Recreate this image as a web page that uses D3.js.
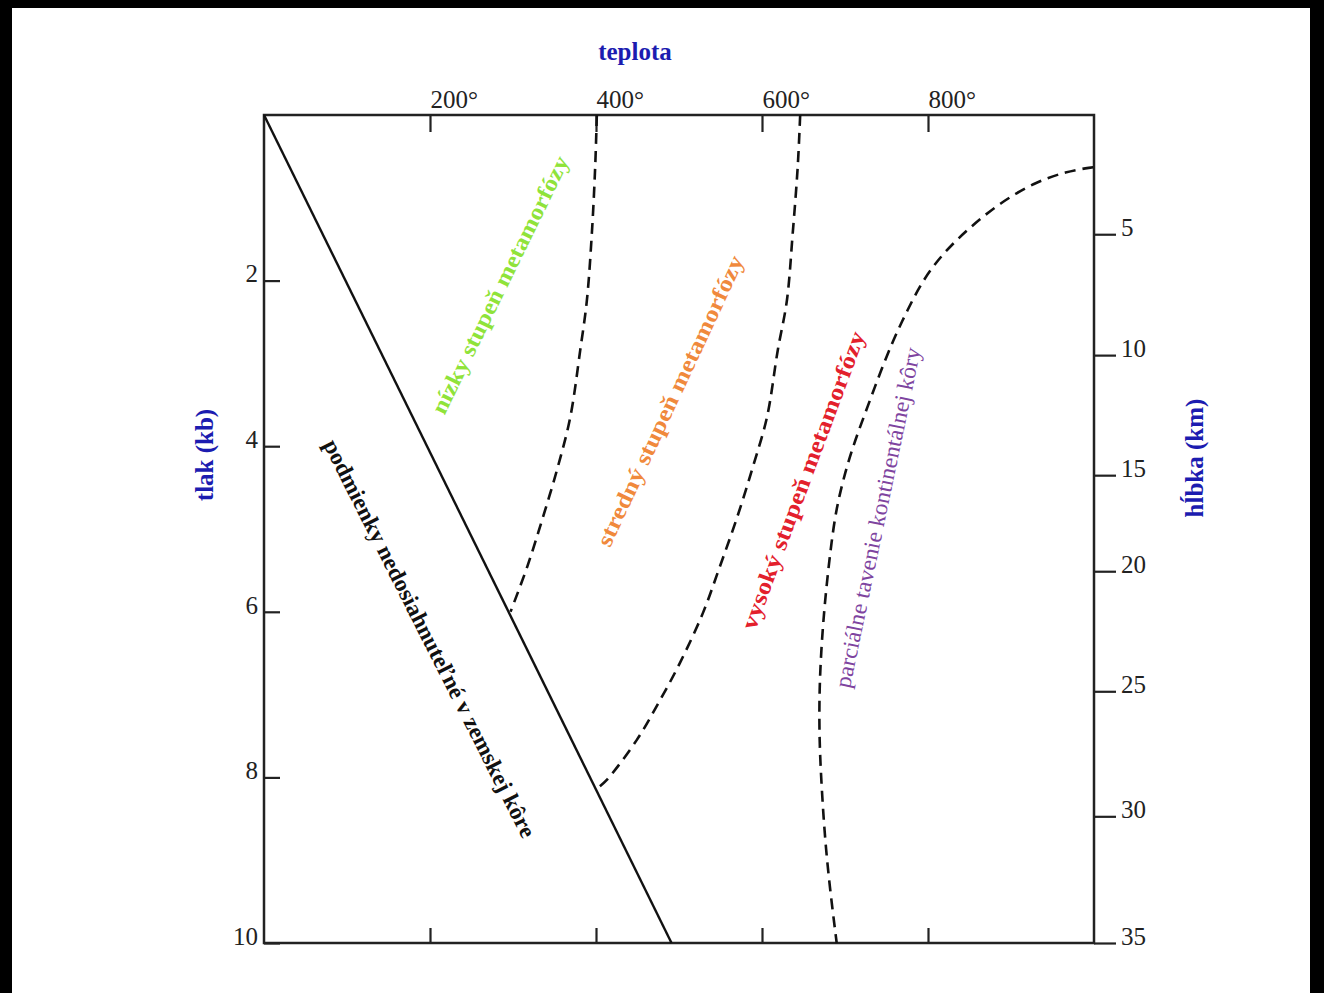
<!DOCTYPE html>
<html>
<head>
<meta charset="utf-8">
<script src="https://cdn.jsdelivr.net/npm/d3@7"></script>
<style>
  html, body { margin: 0; padding: 0; background: #000; }
  svg { display: block; }
  text { font-family: "Liberation Serif", "Times New Roman", serif; }
</style>
</head>
<body>
<div id="chart"></div>
<script>
// Tick values
const tempTicks = [200, 400, 600, 800];
const pressureTicks = [2, 4, 6, 8, 10];
const depthTicks = [5, 10, 15, 20, 25, 30, 35];
// pressure (kb) that each depth tick sits at on the right axis
const depthAtPressure = [1.44, 2.90, 4.35, 5.51, 6.96, 8.47, 10];

// Curves as [temperature °C, pressure kb]
const limitLine = [[0, 0], [491, 10]];
const lowMediumBoundary = [
  [401, 0], [399, 0.63], [395, 1.43], [389, 2.24], [381, 2.84], [369, 3.65],
  [354, 4.25], [336, 4.86], [317, 5.46], [297, 6.0]
];
const mediumHighBoundary = [
  [646, 0], [643, 0.63], [637, 1.43], [630, 2.24], [619, 2.84], [606, 3.65],
  [589, 4.25], [570, 4.86], [549, 5.46], [529, 6.01], [501, 6.62], [477, 7.07],
  [449, 7.55], [413, 8.03], [403, 8.12]
];
const meltingCurve = [
  [999, 0.63], [967, 0.68], [927, 0.82], [887, 1.06], [851, 1.35], [818, 1.67],
  [794, 1.99], [775, 2.36], [758, 2.72], [742, 3.12], [727, 3.53], [712, 3.93],
  [700, 4.32], [690, 4.73], [684, 5.13], [677, 5.74], [672, 6.34], [669, 6.94],
  [669, 7.55], [672, 8.15], [676, 8.76], [682, 9.36], [690, 10]
];

const W = 1324, H = 993;
const margin = {top: 115, right: 230, bottom: 50, left: 264};

const svg = d3.select("#chart").append("svg")
  .attr("width", W)
  .attr("height", H);

// white sheet inside the black frame of the screenshot
svg.append("rect")
  .attr("x", 12).attr("y", 8)
  .attr("width", 1298).attr("height", H - 8)
  .attr("fill", "#fff");

const x = d3.scaleLinear()
  .domain([0, 1000])
  .range([margin.left, 1094]);

const y = d3.scaleLinear()
  .domain([0, 10])
  .range([margin.top, 943]);

const depth = d3.scaleLinear()
  .domain([0, ...depthTicks])
  .range([0, ...depthAtPressure].map(y));

const axisColor = "#222";

// Top axis (temperature)
const topAxis = svg.append("g")
  .attr("transform", `translate(0,${y(0)})`)
  .call(d3.axisTop(x).tickValues(tempTicks).tickSize(-17).tickFormat(d => d + "°"));
topAxis.selectAll("text")
  .attr("text-anchor", "start")
  .attr("x", 0)
  .attr("y", -7)
  .attr("dy", null);

// Bottom axis: ticks only
const bottomAxis = svg.append("g")
  .attr("transform", `translate(0,${y(10)})`)
  .call(d3.axisBottom(x).tickValues(tempTicks).tickSize(-15).tickFormat(""));

// Left axis (pressure)
const leftAxis = svg.append("g")
  .attr("transform", `translate(${x(0)},0)`)
  .call(d3.axisLeft(y).tickValues(pressureTicks).tickSize(-16));
leftAxis.selectAll("text")
  .attr("x", -6)
  .attr("dy", "0.05em");

// Right axis (depth)
const rightAxis = svg.append("g")
  .attr("transform", `translate(${x(1000)},0)`)
  .call(d3.axisRight(depth).tickValues(depthTicks).tickSize(22));
rightAxis.selectAll("text")
  .attr("x", 27)
  .attr("dy", "0.05em");

[topAxis, bottomAxis, leftAxis, rightAxis].forEach(g => {
  g.select(".domain").remove();
  g.selectAll("line").attr("stroke", axisColor).attr("stroke-width", 2.2);
  g.selectAll("text")
    .attr("fill", "#222")
    .style("font-size", "25px")
    .style("font-family", "'Liberation Serif', serif");
});

// Frame
svg.append("rect")
  .attr("x", x(0)).attr("y", y(0))
  .attr("width", x(1000) - x(0)).attr("height", y(10) - y(0))
  .attr("fill", "none")
  .attr("stroke", axisColor)
  .attr("stroke-width", 2.5);

// Lines
const line = d3.line()
  .x(d => x(d[0]))
  .y(d => y(d[1]));

const smooth = d3.line()
  .x(d => x(d[0]))
  .y(d => y(d[1]))
  .curve(d3.curveCatmullRom.alpha(0.5));

const smoother = d3.line()
  .x(d => x(d[0]))
  .y(d => y(d[1]))
  .curve(d3.curveBasis);

svg.append("path")
  .datum(limitLine)
  .attr("d", line)
  .attr("fill", "none")
  .attr("stroke", "#111")
  .attr("stroke-width", 2.4);

[[lowMediumBoundary, smooth], [mediumHighBoundary, smooth], [meltingCurve, smoother]].forEach(([c, gen]) => {
  svg.append("path")
    .datum(c)
    .attr("d", gen)
    .attr("fill", "none")
    .attr("stroke", "#111")
    .attr("stroke-width", 2.6)
    .attr("stroke-dasharray", "11,7");
});

// Axis titles
svg.append("text")
  .attr("x", 635).attr("y", 60)
  .attr("text-anchor", "middle")
  .attr("fill", "#1c1cb0")
  .style("font-size", "25px")
  .style("font-weight", "bold")
  .text("teplota");

svg.append("text")
  .attr("transform", "translate(213,455) rotate(-90)")
  .attr("text-anchor", "middle")
  .attr("fill", "#1c1cb0")
  .style("font-size", "25px")
  .style("font-weight", "bold")
  .text("tlak (kb)");

svg.append("text")
  .attr("transform", "translate(1203,458) rotate(-90)")
  .attr("text-anchor", "middle")
  .attr("fill", "#1c1cb0")
  .style("font-size", "25px")
  .style("font-weight", "bold")
  .text("hĺbka (km)");

// Region labels: [text, temp, pressure, angle, colour, weight, length]
const regionLabels = [
  ["nízky stupeň metamorfózy", 284, 2.05, -63.9, "#8fe33a", "bold", 284],
  ["stredný stupeň metamorfózy", 489, 3.45, -65, "#f0893c", "bold", 318],
  ["vysoký stupeň metamorfózy", 649, 4.41, -69.6, "#e3202c", "bold", 316],
  ["parciálne tavenie kontinentálnej kôry", 739, 4.86, -78.2, "#7e449f", "normal", 347],
  ["podmienky nedosiahnuteľné v zemskej kôre", 200, 6.32, 63.2, "#111", "bold", 443]
];

svg.selectAll(".region-label")
  .data(regionLabels)
  .join("text")
  .attr("class", "region-label")
  .attr("transform", d => `translate(${x(d[1])},${y(d[2])}) rotate(${d[3]})`)
  .attr("text-anchor", "middle")
  .attr("dy", "0.35em")
  .attr("fill", d => d[4])
  .style("font-size", "23px")
  .style("font-weight", d => d[5])
  .attr("textLength", d => d[6])
  .attr("lengthAdjust", "spacingAndGlyphs")
  .text(d => d[0]);
</script>
</body>
</html>
